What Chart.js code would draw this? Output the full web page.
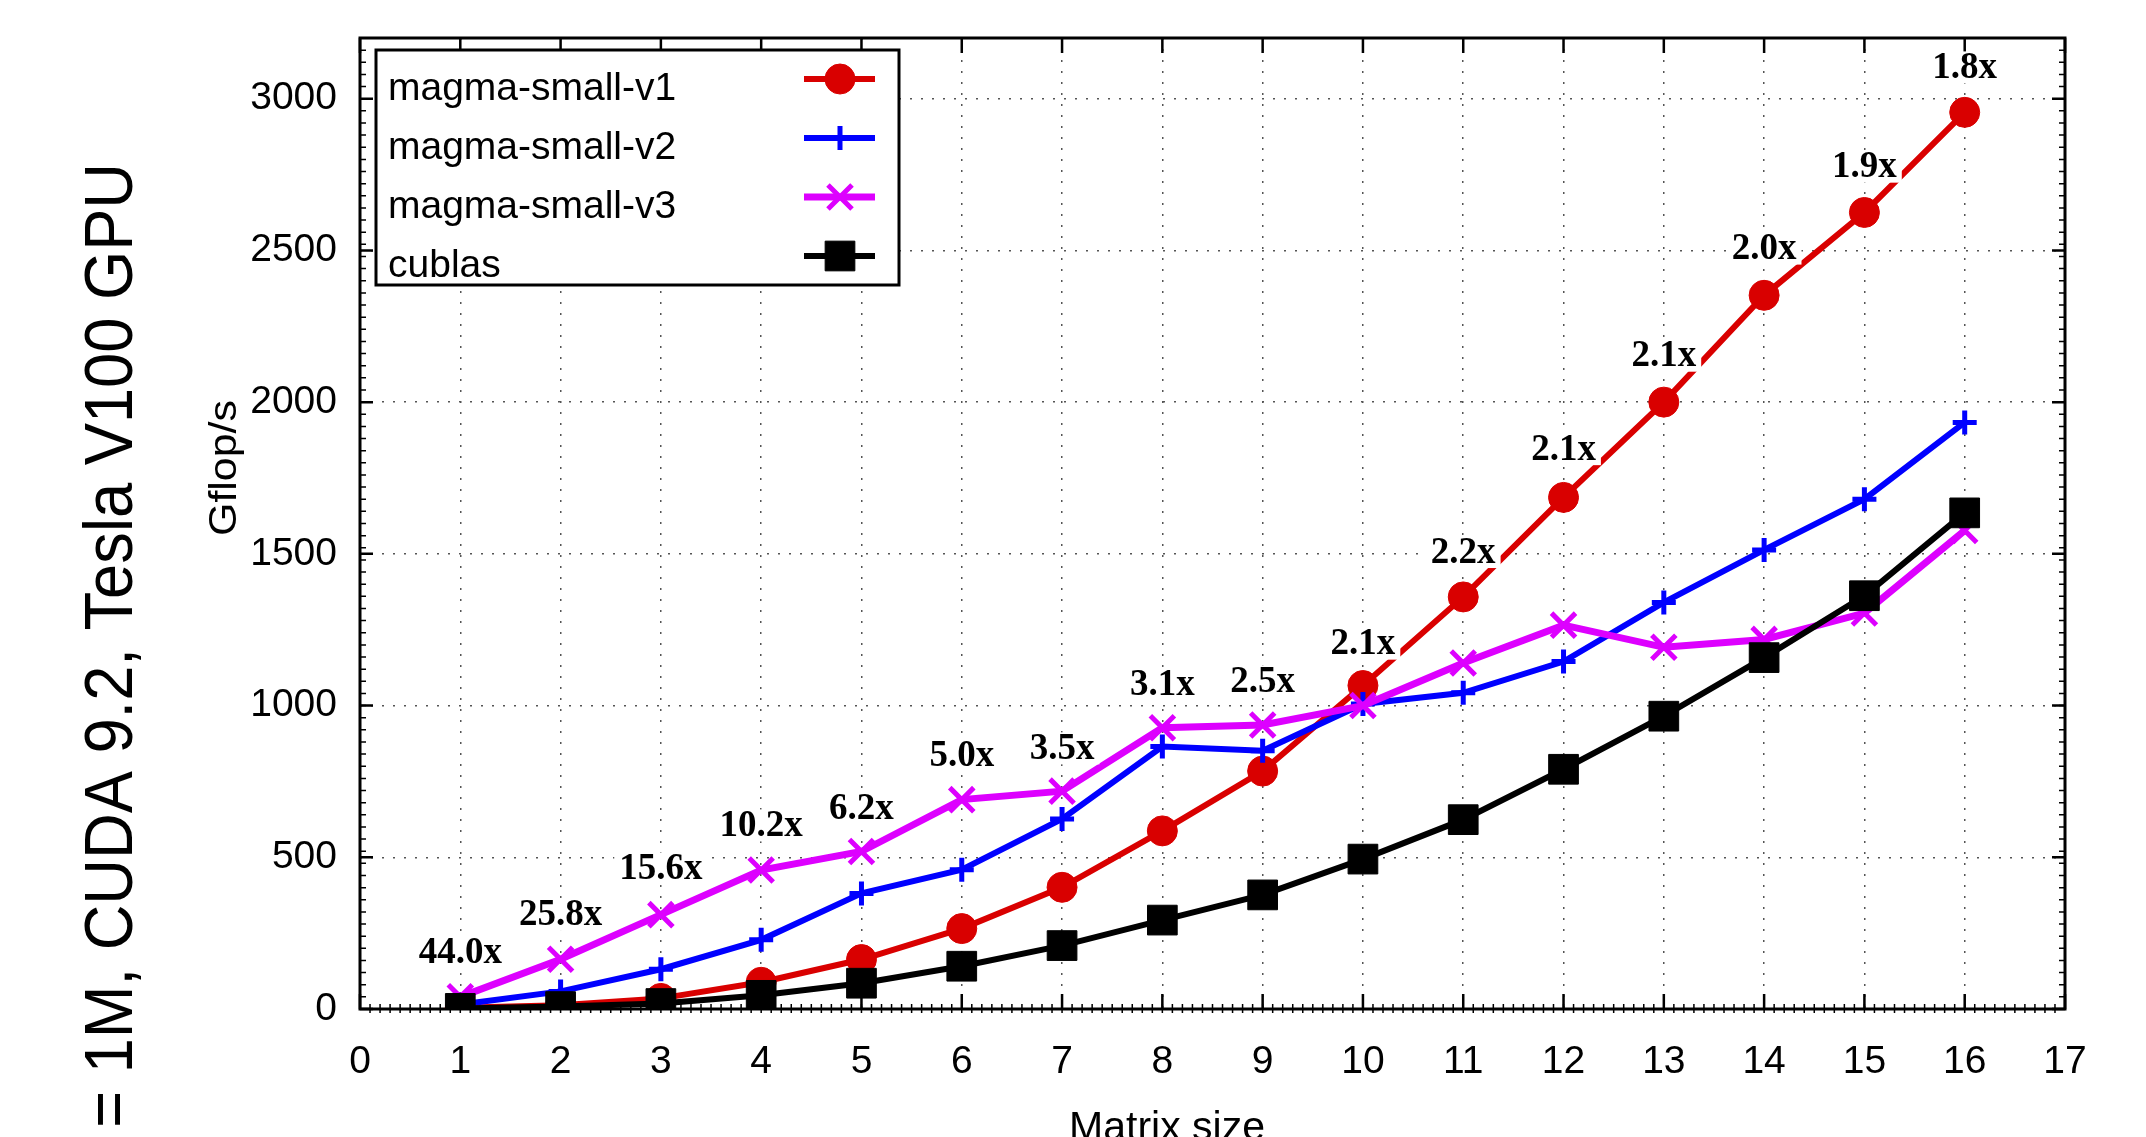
<!DOCTYPE html>
<html>
<head>
<meta charset="utf-8">
<script src="https://cdn.jsdelivr.net/npm/chart.js@4.4.1/dist/chart.umd.min.js"></script>
<style>
html,body{margin:0;padding:0;background:#fff}
#wrap{width:2146px;height:1137px}
</style>
</head>
<body>
<div id="wrap"><canvas id="c" width="2146" height="1137"></canvas></div>
<script>
// ---- data ----
const SIZES=[1,2,3,4,5,6,7,8,9,10,11,12,13,14,15,16];
const V1=[4,12,35,88,163,265,401,587,784,1066,1358,1686,2000,2352,2625,2955];
const V2=[15,58,131,228,381,459,626,865,851,1005,1042,1145,1340,1513,1680,1933];
const V3=[40,164,311,458,519,690,718,927,936,1000,1140,1265,1192,1218,1305,1577];
const CUBLAS=[2,8,18,45,85,141,209,293,376,494,624,790,965,1158,1362,1635];
const SPEEDUP=['44.0x','25.8x','15.6x','10.2x','6.2x','5.0x','3.5x','3.1x','2.5x','2.1x','2.2x','2.1x','2.1x','2.0x','1.9x','1.8x'];
const SPEEDUP_Y=[185,310,463,605,662,837,859,1068,1080,1204,1506,1845,2153,2506,2776,3103];
const X_TICKS=[0,1,2,3,4,5,6,7,8,9,10,11,12,13,14,15,16,17];
const Y_TICKS=[0,500,1000,1500,2000,2500,3000];

const SANS='"Liberation Sans", Arial, Helvetica, sans-serif';
const SERIF='"Liberation Serif", "Times New Roman", serif';
const RED='#d90000', BLUE='#0000ff', MAG='#dd00ff', BLK='#000000';

const pts=arr=>SIZES.map((s,i)=>({x:s,y:arr[i]}));

// frame + inward tics (gnuplot look)
const frame={
  id:'frame',
  beforeDatasetsDraw(chart){
    const {ctx,chartArea:a,scales:{x,y}}=chart;
    ctx.save();
    ctx.strokeStyle='#000';
    ctx.lineWidth=1.5;
    ctx.beginPath();
    for(let i=1;i<170;i++){const px=x.getPixelForValue(i/10);ctx.moveTo(px,a.bottom-5);ctx.lineTo(px,a.bottom+4);}
    for(let i=1;i<80;i++){const py=y.getPixelForValue(i*40);ctx.moveTo(a.left,py);ctx.lineTo(a.left+6,py);ctx.moveTo(a.right,py);ctx.lineTo(a.right-6,py);}
    ctx.stroke();
    ctx.lineWidth=2.5;
    ctx.beginPath();
    X_TICKS.forEach(v=>{const px=x.getPixelForValue(v);ctx.moveTo(px,a.bottom);ctx.lineTo(px,a.bottom-15);ctx.moveTo(px,a.top);ctx.lineTo(px,a.top+15);});
    Y_TICKS.forEach(v=>{const py=y.getPixelForValue(v);ctx.moveTo(a.left,py);ctx.lineTo(a.left+13,py);ctx.moveTo(a.right,py);ctx.lineTo(a.right-13,py);});
    ctx.stroke();
    ctx.lineWidth=3;
    ctx.strokeRect(a.left,a.top,a.width,a.height);
    ctx.restore();
  }
};

// speedup labels on white boxes
const speedLabels={
  id:'speedLabels',
  afterDatasetsDraw(chart){
    const {ctx,scales:{x,y}}=chart;
    ctx.save();
    ctx.font='bold 37px '+SERIF;
    ctx.textAlign='center';ctx.textBaseline='middle';
    SPEEDUP.forEach((t,i)=>{
      const px=x.getPixelForValue(SIZES[i]), py=y.getPixelForValue(SPEEDUP_Y[i]);
      const w=ctx.measureText(t).width;
      ctx.fillStyle='#fff';ctx.fillRect(px-w/2-5,py-16,w+10,32);
      ctx.fillStyle='#000';ctx.fillText(t,px,py+1);
    });
    ctx.restore();
  }
};

// gnuplot style key: text then sample
const keyBox={
  id:'keyBox',
  afterDatasetsDraw(chart){
    const ctx=chart.ctx;
    ctx.save();
    ctx.fillStyle='#fff';ctx.fillRect(376,50,523,235);
    ctx.lineWidth=3;ctx.strokeStyle='#000';ctx.strokeRect(376,50,523,235);
    ctx.font='39px '+SANS;ctx.textAlign='left';ctx.textBaseline='alphabetic';
    chart.data.datasets.forEach((ds,i)=>{
      const ty=100+i*59, ly=79+i*59;
      ctx.fillStyle='#000';ctx.fillText(ds.label,388,ty);
      ctx.strokeStyle=ds.borderColor;ctx.lineWidth=ds.borderWidth;
      ctx.beginPath();ctx.moveTo(804,ly);ctx.lineTo(875,ly);ctx.stroke();
      ctx.fillStyle=ds.pointBackgroundColor;ctx.lineWidth=ds.pointBorderWidth;
      Chart.helpers.drawPoint(ctx,{pointStyle:ds.pointStyle,radius:ds.pointRadius,rotation:0,borderWidth:ds.pointBorderWidth},840,ly);
    });
    ctx.restore();
  }
};

// axis titles and the cut side caption
const titles={
  id:'titles',
  afterDraw(chart){
    const ctx=chart.ctx;
    ctx.save();
    ctx.fillStyle='#000';
    ctx.font='41px '+SANS;ctx.textAlign='center';ctx.textBaseline='alphabetic';
    ctx.fillText('Matrix size',1167,1140);
    ctx.save();
    ctx.translate(236,468);ctx.rotate(-Math.PI/2);ctx.scale(1.1,1);
    ctx.font='39px '+SANS;ctx.textAlign='center';
    ctx.fillText('Gflop/s',0,0);
    ctx.restore();
    ctx.save();
    ctx.translate(132,163);ctx.rotate(-Math.PI/2);ctx.scale(0.93,1);
    ctx.font='68px '+SANS;ctx.textAlign='right';
    ctx.fillText('= 1M, CUDA 9.2, Tesla V100 GPU',0,0);
    ctx.restore();
    ctx.restore();
  }
};

function series(label,arr,color,style,radius,bw,pbw,order){
  return {label,data:pts(arr),borderColor:color,backgroundColor:color,pointBackgroundColor:color,pointBorderColor:color,
    pointStyle:style,pointRadius:radius,pointHoverRadius:radius,pointBorderWidth:pbw,borderWidth:bw,tension:0,fill:false,order};
}

const noPad=s=>{s.paddingTop=0;s.paddingBottom=0;s.paddingLeft=0;s.paddingRight=0;};

new Chart(document.getElementById('c'),{
  type:'line',
  data:{datasets:[
    series('magma-small-v1',V1,RED,'circle',15,6,1,4),
    series('magma-small-v2',V2,BLUE,'cross',12,6,5,3),
    series('magma-small-v3',V3,MAG,'crossRot',17,7,5,2),
    series('cublas',CUBLAS,BLK,'rect',21,6,1,1)
  ]},
  options:{
    responsive:false,animation:false,
    layout:{padding:{top:38,right:81,left:0,bottom:0}},
    plugins:{legend:{display:false},tooltip:{enabled:false}},
    scales:{
      x:{type:'linear',min:0,max:17,
        afterBuildTicks:s=>{s.ticks=X_TICKS.map(v=>({value:v}));},
        afterFit:s=>{s.height=128;noPad(s);},
        grid:{color:'#555',lineWidth:1.5,drawTicks:false},
        border:{display:false,dash:[2,9]},
        ticks:{padding:30,color:'#000',font:{family:SANS,size:39},maxRotation:0,autoSkip:false,callback:v=>String(v)}},
      y:{type:'linear',min:0,max:3200,
        afterBuildTicks:s=>{s.ticks=Y_TICKS.map(v=>({value:v}));},
        afterFit:s=>{s.width=360;noPad(s);},
        grid:{color:'#555',lineWidth:1.5,drawTicks:false},
        border:{display:false,dash:[2,9]},
        ticks:{padding:23,color:'#000',font:{family:SANS,size:39},callback:v=>String(v)}}
    }
  },
  plugins:[frame,speedLabels,keyBox,titles]
});
</script>
</body>
</html>
